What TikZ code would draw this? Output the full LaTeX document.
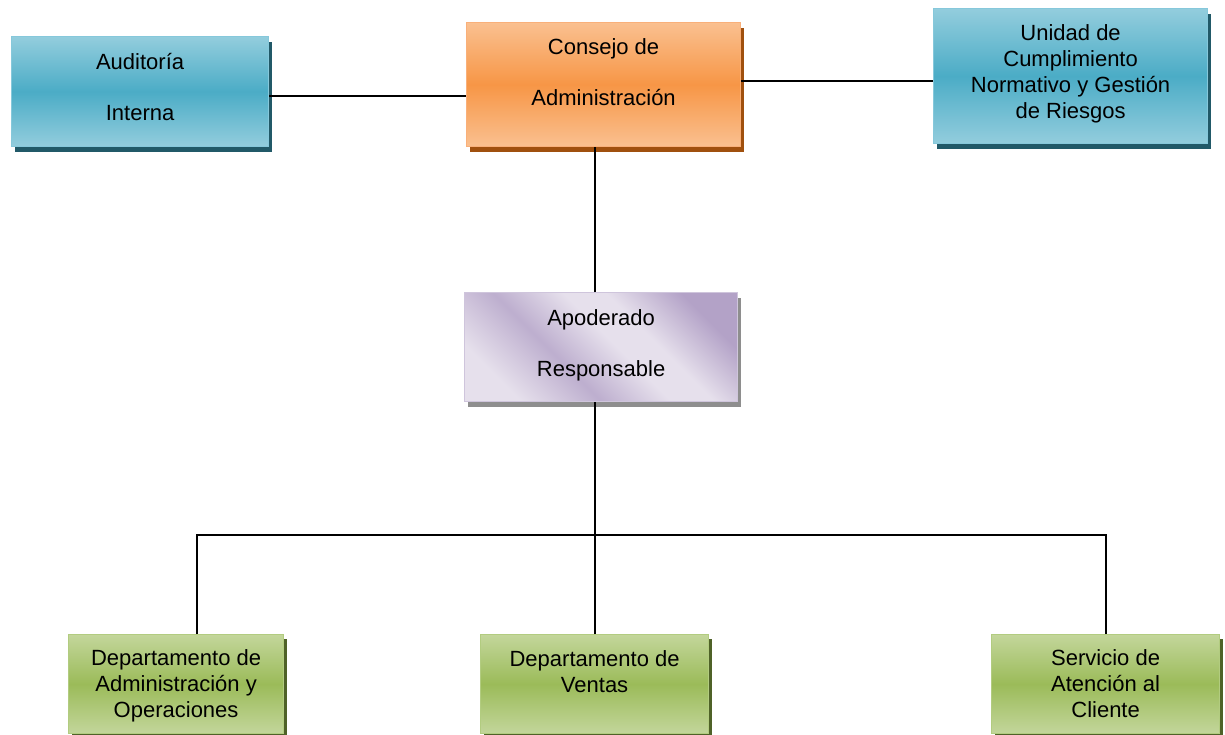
\documentclass[tikz,border=0pt]{standalone}
\usepackage{fontspec}
\setmainfont{Liberation Sans}
\usetikzlibrary{shadows}

\definecolor{bluelight}{HTML}{93CDDD}
\definecolor{bluemid}{HTML}{4BACC6}
\definecolor{blueedge}{HTML}{86C8DB}
\definecolor{blueshadow}{HTML}{215968}
\definecolor{orangelight}{HTML}{FAC090}
\definecolor{orangemid}{HTML}{F79646}
\definecolor{orangeedge}{HTML}{F9B07A}
\definecolor{orangeshadow}{HTML}{A0500E}
\definecolor{purplelight}{HTML}{E6E0EC}
\definecolor{purplemid}{HTML}{B3A2C7}
\definecolor{purpleedge}{HTML}{CFC5DC}
\definecolor{purpleshadow}{HTML}{8E8E8E}
\definecolor{greenlight}{HTML}{C3D69B}
\definecolor{greenmid}{HTML}{9BBB59}
\definecolor{greenedge}{HTML}{B2CC80}
\definecolor{greenshadow}{HTML}{4F6228}

\pgfdeclareverticalshading{apodshade}{100bp}{color(0bp)=(purplelight); color(25bp)=(purplelight);
  color(40bp)=(purplemid!80!purplelight); color(53bp)=(purplelight); color(61bp)=(purplelight);
  color(75bp)=(purplemid); color(100bp)=(purplemid)}

\newcommand\unitfont{\fontsize{22}{25.8}\selectfont}
\newcommand\spreadfont{\fontsize{22}{51}\selectfont}

\tikzset{
  unit/.style={draw, line width=1.2pt, anchor=north west, inner sep=0pt},
  bluebox/.style={unit, draw=blueedge, top color=bluelight, bottom color=bluelight, middle color=bluemid,
    drop shadow={shadow xshift=3.5pt, shadow yshift=-5pt, opacity=1, fill=blueshadow}},
  orangebox/.style={unit, draw=orangeedge, top color=orangelight, bottom color=orangelight, middle color=orangemid,
    drop shadow={shadow xshift=3.5pt, shadow yshift=-5pt, opacity=1, fill=orangeshadow}},
  purplebox/.style={unit, draw=purpleedge, shading=apodshade, shading angle=-45,
    drop shadow={shadow xshift=3.5pt, shadow yshift=-5pt, opacity=1, fill=purpleshadow}},
  greenbox/.style={unit, draw=greenedge, top color=greenlight, bottom color=greenlight, middle color=greenmid,
    minimum height=99pt, drop shadow={shadow xshift=3pt, shadow yshift=-4pt, opacity=1, fill=greenshadow}},
  unittext/.style={font=\unitfont, align=center, inner sep=0pt, anchor=base},
  link/.style={line width=2pt}
}

\begin{document}
\begin{tikzpicture}[x=1pt,y=-1pt]
    \useasboundingbox (0,0) rectangle (1225,734);

    % Top row
    \node[bluebox, minimum width=257pt, minimum height=110pt] (audit) at (11,36) {};
    \node[orangebox, minimum width=274pt, minimum height=124pt] (consejo) at (466,22) {};
    \node[bluebox, minimum width=274pt, minimum height=135pt] (unidad) at (933,8) {};

    % Middle
    \node[purplebox, minimum width=273pt, minimum height=109pt] (apod) at (464,292) {};

    % Departments
    \node[greenbox, minimum width=215pt] (deptadm) at (68,634) {};
    \node[greenbox, minimum width=228pt] (ventas) at (480,634) {};
    \node[greenbox, minimum width=228pt] (servicio) at (991,634) {};

    % Texts (base = last line)
    \node[unittext, font=\spreadfont] (audit-txt) at ([yshift=-84pt]audit.north) {Auditoría\\Interna};
    \node[unittext, font=\spreadfont] (consejo-txt) at ([yshift=-83pt]consejo.north) {Consejo de\\Administración};
    \node[unittext] (unidad-txt) at ([yshift=-110pt]unidad.north) {Unidad de\\Cumplimiento\\Normativo y Gestión\\de Riesgos};
    \node[unittext, font=\spreadfont] (apod-txt) at ([yshift=-84.5pt]apod.north) {Apoderado\\Responsable};
    \node[unittext] (deptadm-txt) at ([yshift=-83pt]deptadm.north) {Departamento de\\Administración y\\Operaciones};
    \node[unittext] (ventas-txt) at ([yshift=-58pt]ventas.north) {Departamento de\\Ventas};
    \node[unittext] (servicio-txt) at ([yshift=-83pt]servicio.north) {Servicio de\\Atención al\\Cliente};

    % Connectors
    \draw[link] ([yshift=-4pt]audit.east) -- ([yshift=-4pt]audit.east -| consejo.west);
    \draw[link] ([yshift=-4.5pt]unidad.west) -- ([yshift=-4.5pt]unidad.west -| consejo.east);
    \draw[link] ([xshift=-6pt]apod.north) -- ([xshift=-6pt]apod.north |- consejo.south);
    \draw[link] (ventas.north) -- (ventas.north |- apod.south);
    \coordinate (bus) at ([yshift=99pt]ventas.north);
    \draw[link] ([xshift=20.5pt]deptadm.north) |- (bus) -| (servicio.north);
\end{tikzpicture}
\end{document}
